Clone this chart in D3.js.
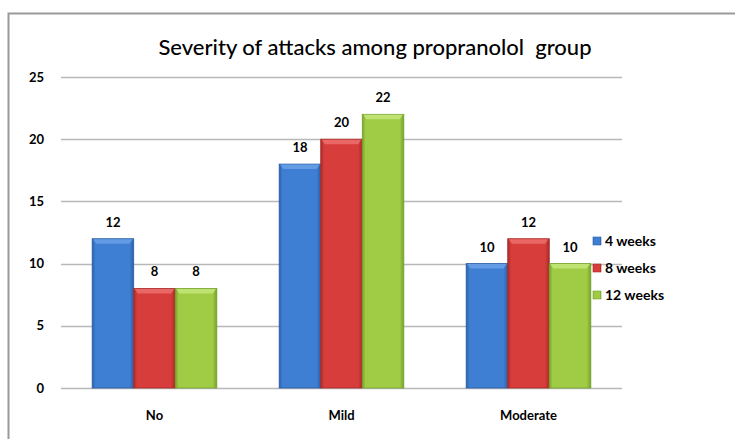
<!DOCTYPE html>
<html>
<head>
<meta charset="utf-8">
<script src="https://cdn.jsdelivr.net/npm/d3@7"></script>
<style>
  html, body { margin: 0; padding: 0; background: #fff; }
  svg { display: block; }
</style>
</head>
<body>
<svg id="chart" width="735" height="439"></svg>
<script>
const categories = ["No", "Mild", "Moderate"];
const seriesNames = ["4 weeks", "8 weeks", "12 weeks"];
const weeks4 = [12, 18, 10];
const weeks8 = [8, 20, 12];
const weeks12 = [8, 22, 10];
const yTicks = [0, 5, 10, 15, 20, 25];
const titleText = "Severity of attacks among propranolol  group";

const seriesValues = [weeks4, weeks8, weeks12];
const colors = [
  { base: "#3f7fd3", dark: "#2a5ea6", light: "#6aa0e6" },
  { base: "#d63d3b", dark: "#a82a28", light: "#ec6f6c" },
  { base: "#a0cc45", dark: "#76a12b", light: "#c4e67a" }
];

const font = "Lato, 'Open Sans', sans-serif";
const svg = d3.select("#chart");
const defs = svg.append("defs");

// outer chart frame (left and top edges visible)
svg.append("path")
  .attr("d", "M8.5,439 V13.5 H735")
  .attr("fill", "none").attr("stroke", "#9a9a9a").attr("stroke-width", 2);

const plot = { left: 61, right: 622, top: 77, bottom: 388 };

const x0 = d3.scaleBand().domain(categories).range([plot.left, plot.right]).paddingInner(0).paddingOuter(0);
const x1 = d3.scaleBand().domain(seriesNames).range([0, x0.bandwidth()]).paddingOuter(0.75).paddingInner(0);
const y = d3.scaleLinear().domain([0, 25]).range([plot.bottom, plot.top]);

// horizontal gridlines
svg.append("g").selectAll("line").data(yTicks).join("line")
  .attr("x1", plot.left).attr("x2", plot.right)
  .attr("y1", d => Math.round(y(d)) + 0.5).attr("y2", d => Math.round(y(d)) + 0.5)
  .attr("stroke", "#b8b8b8").attr("stroke-width", 1.5);

// y axis labels
const yAxis = d3.axisLeft(y).tickValues(yTicks).tickSize(0).tickPadding(0);
const yg = svg.append("g").attr("transform", `translate(${plot.left - 17},0)`).call(yAxis);
yg.select(".domain").remove();
yg.selectAll("text").attr("font-family", font).attr("font-weight", "bold")
  .attr("font-size", 13).attr("fill", "#000");

// x axis labels
const xAxis = d3.axisBottom(x0).tickSize(0).tickPadding(0);
const xg = svg.append("g").attr("transform", `translate(0,${plot.bottom + 23})`).call(xAxis);
xg.select(".domain").remove();
xg.selectAll("text").attr("font-family", font).attr("font-weight", "bold")
  .attr("font-size", 13).attr("fill", "#000");

// bevel gradients per series
colors.forEach((c, i) => {
  const g = defs.append("linearGradient").attr("id", "grad" + i)
    .attr("x1", "0").attr("x2", "1").attr("y1", "0").attr("y2", "0");
  g.append("stop").attr("offset", "0").attr("stop-color", c.dark);
  g.append("stop").attr("offset", "0.08").attr("stop-color", c.base);
  g.append("stop").attr("offset", "0.9").attr("stop-color", c.base);
  g.append("stop").attr("offset", "1").attr("stop-color", c.dark);
});

const groups = svg.append("g").selectAll("g").data(categories).join("g")
  .attr("transform", d => `translate(${x0(d)},0)`);

groups.each(function(cat, ci) {
  const g = d3.select(this);
  seriesNames.forEach((s, si) => {
    const v = seriesValues[si][ci];
    const bx = x1(s), bw = x1.bandwidth();
    const top = y(v), h = y(0) - y(v);
    g.append("rect").attr("x", bx).attr("y", top).attr("width", bw).attr("height", h)
      .attr("fill", `url(#grad${si})`).attr("stroke", colors[si].dark).attr("stroke-width", 0.8);
    // top bevel highlight
    g.append("path")
      .attr("d", `M${bx + 1},${top + 0.5} H${bx + bw - 1} L${bx + bw - 4},${top + 5} H${bx + 4} Z`)
      .attr("fill", colors[si].light).attr("opacity", 0.85);
    // value label
    g.append("text").attr("x", bx + bw / 2).attr("y", top - 12)
      .attr("text-anchor", "middle").attr("font-family", font).attr("font-weight", "bold")
      .attr("font-size", 13).attr("fill", "#000").text(v);
  });
});

// title
svg.append("text").attr("x", 375).attr("y", 55).attr("text-anchor", "middle")
  .style("white-space", "pre")
  .attr("font-family", font).attr("font-size", 22).attr("font-weight", 500)
  .attr("fill", "#000").text(titleText);

// legend
const legend = svg.append("g").attr("transform", "translate(593,241)");
seriesNames.forEach((s, i) => {
  const row = legend.append("g").attr("transform", `translate(0,${i * 27})`);
  row.append("rect").attr("x", 0).attr("y", -4).attr("width", 8).attr("height", 8)
    .attr("fill", `url(#grad${i})`).attr("stroke", colors[i].dark).attr("stroke-width", 0.6);
  row.append("text").attr("x", 12).attr("y", 5).attr("font-family", font).attr("font-weight", "bold")
    .attr("font-size", 14).attr("fill", "#000").text(s);
});
</script>
</body>
</html>
